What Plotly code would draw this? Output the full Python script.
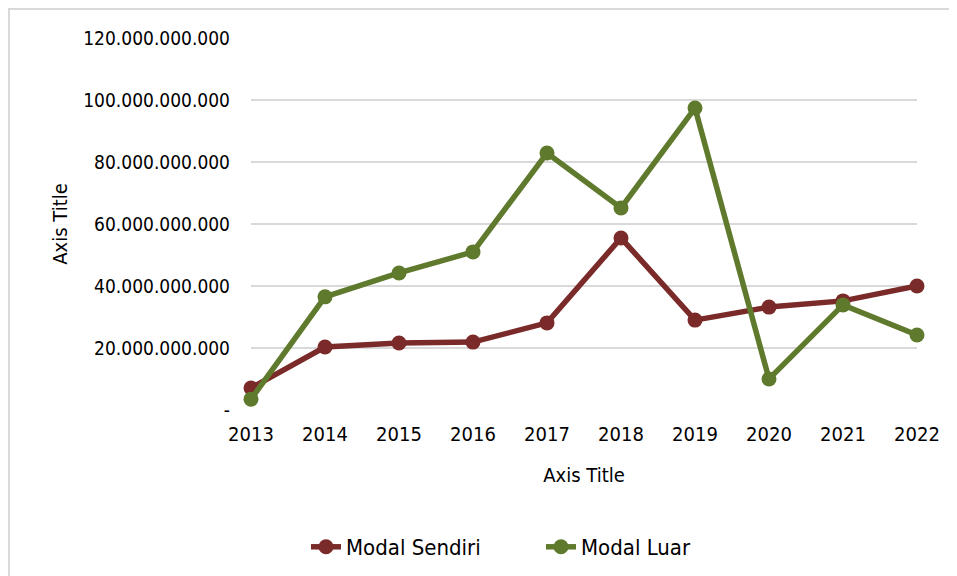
import plotly.graph_objects as go

years = [2013, 2014, 2015, 2016, 2017, 2018, 2019, 2020, 2021, 2022]
modal_sendiri = [7.1e9, 20.3e9, 21.6e9, 21.9e9, 28.1e9, 55.5e9, 29.0e9, 33.2e9, 35.2e9, 40.0e9]
modal_luar = [3.5e9, 36.5e9, 44.2e9, 51.0e9, 82.9e9, 65.2e9, 97.4e9, 10.0e9, 33.9e9, 24.2e9]

y_ticks = [0, 20e9, 40e9, 60e9, 80e9, 100e9, 120e9]
y_labels = ["-", "20.000.000.000", "40.000.000.000", "60.000.000.000",
            "80.000.000.000", "100.000.000.000", "120.000.000.000"]

FONT = "DejaVu Sans Condensed, Liberation Sans Narrow, Roboto, sans-serif"
RED = "#7A2A28"
GREEN = "#5F7A2D"

# page body has an 8px margin, so everything is shifted up/left by 8
L, R, T, B = 243, 48, 30, 174
PW, PH = 957 - L - R, 576 - T - B

fig = go.Figure()
for name, vals, col in [("Modal Sendiri", modal_sendiri, RED), ("Modal Luar", modal_luar, GREEN)]:
    fig.add_trace(go.Scatter(
        x=years, y=vals, name=name, mode="lines+markers",
        line=dict(color=col, width=5.5),
        marker=dict(color=col, size=15),
        cliponaxis=False,
    ))

fig.update_layout(
    width=957, height=576,
    margin=dict(l=L, r=R, t=T, b=B),
    plot_bgcolor="white", paper_bgcolor="white",
    font=dict(family=FONT, size=18, color="black"),
    showlegend=True,
    legend=dict(orientation="h", x=(298 - L) / PW, xanchor="left",
                y=(PH + T - 539) / PH, yanchor="middle",
                font=dict(size=22), entrywidthmode="pixels", entrywidth=190),
    shapes=[dict(type="rect", xref="paper", yref="paper",
                 x0=(1 - L) / PW, x1=1.2, y0=-0.8, y1=(PH + T - 1) / PH,
                 line=dict(color="#D9D9D9", width=2), layer="below")],
)
fig.update_xaxes(
    range=[2013, 2022], tickvals=years, ticks="", showgrid=False, zeroline=False,
    showline=False, tickfont=dict(size=20), automargin=False, ticklabelstandoff=10,
    title=dict(text="Axis Title", font=dict(size=20), standoff=22),
)
fig.update_yaxes(
    range=[0, 120e9], tickvals=y_ticks, ticktext=y_labels, ticks="",
    showgrid=True, gridcolor="#D9D9D9", gridwidth=2, zeroline=False, showline=False,
    tickfont=dict(size=19), ticklabelstandoff=20, automargin=False,
    title=dict(text="Axis Title", font=dict(size=20), standoff=10),
)

fig.write_html("out.html")
